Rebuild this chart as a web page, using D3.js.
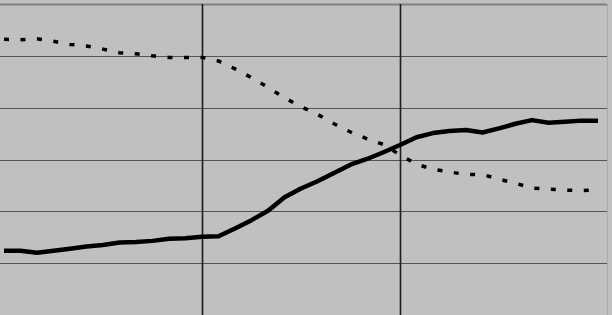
<!DOCTYPE html>
<html lang="en">
<head>
    <meta charset="UTF-8">
    <title>Two series line chart</title>
    <script src="https://d3js.org/d3.v7.min.js"></script>
    <style>
        body { margin: 0; background: #c0c0c0; }
        svg { display: block; }
    </style>
</head>
<body>
    <svg width="612" height="315" id="chart"></svg>
    <script>
        const width = 612;
        const height = 315;

        // periods along the x axis (37 points, no labels shown)
        const periods = d3.range(37);

        // rising series (solid line)
        const solidValues = [
            12.4, 12.4, 12.0, 12.4, 12.8, 13.2, 13.5, 14.0, 14.1, 14.3, 14.7, 14.8,
            15.1, 15.2, 16.7, 18.3, 20.1, 22.7, 24.4, 25.8, 27.4, 29.0, 30.1, 31.4,
            32.8, 34.3, 35.1, 35.5, 35.7, 35.2, 36.0, 36.9, 37.6, 37.1, 37.3, 37.5, 37.5
        ];

        // falling series (dotted line)
        const dottedValues = [
            53.2, 53.1, 53.3, 52.8, 52.2, 51.9, 51.3, 50.6, 50.4, 50.0, 49.7, 49.7,
            49.7, 49.0, 47.5, 45.8, 43.9, 41.9, 40.2, 38.7, 36.9, 35.3, 34.0, 32.9,
            30.9, 29.1, 28.1, 27.6, 27.1, 27.1, 26.2, 25.4, 24.5, 24.3, 24.1, 24.0, 24.1
        ];

        // horizontal gridline values and the periods that get a vertical line
        const yTicks = [0, 10, 20, 30, 40, 50, 60];
        const xMarks = [12, 24];

        const svg = d3.select("#chart");

        const x = d3.scaleLinear()
            .domain([0, 36])
            .range([4, 598]);

        const y = d3.scaleLinear()
            .domain([0, 60])
            .range([315, 4]);

        // plot area
        svg.append("rect")
            .attr("x", 0)
            .attr("y", 0)
            .attr("width", width)
            .attr("height", height)
            .attr("fill", "#c0c0c0");

        // horizontal gridlines
        svg.append("g")
            .selectAll("line")
            .data(yTicks)
            .join("line")
            .attr("x1", 0)
            .attr("x2", 607)
            .attr("y1", d => Math.round(y(d)) + 0.5)
            .attr("y2", d => Math.round(y(d)) + 0.5)
            .attr("stroke", d => d === 60 ? "#808080" : "#555555")
            .attr("stroke-width", d => d === 60 ? 2 : 1.2);

        // right border of the plot area
        svg.append("line")
            .attr("x1", 607.5)
            .attr("x2", 607.5)
            .attr("y1", y(60))
            .attr("y2", height)
            .attr("stroke", "#a8a8a8")
            .attr("stroke-width", 1);

        // vertical marker lines
        svg.append("g")
            .selectAll("line")
            .data(xMarks)
            .join("line")
            .attr("x1", d => x(d) + 0.5)
            .attr("x2", d => x(d) + 0.5)
            .attr("y1", y(60))
            .attr("y2", height)
            .attr("stroke", "#1a1a1a")
            .attr("stroke-width", 1.6);

        const line = d3.line()
            .x((d, i) => x(periods[i]))
            .y(d => y(d));

        // dotted series
        svg.append("path")
            .datum(dottedValues)
            .attr("d", line)
            .attr("fill", "none")
            .attr("stroke", "#000")
            .attr("stroke-width", 3.5)
            .attr("stroke-dasharray", "5,11.5");

        // solid series
        svg.append("path")
            .datum(solidValues)
            .attr("d", line)
            .attr("fill", "none")
            .attr("stroke", "#000")
            .attr("stroke-width", 4.5)
            .attr("stroke-linejoin", "round");
    </script>
</body>
</html>
